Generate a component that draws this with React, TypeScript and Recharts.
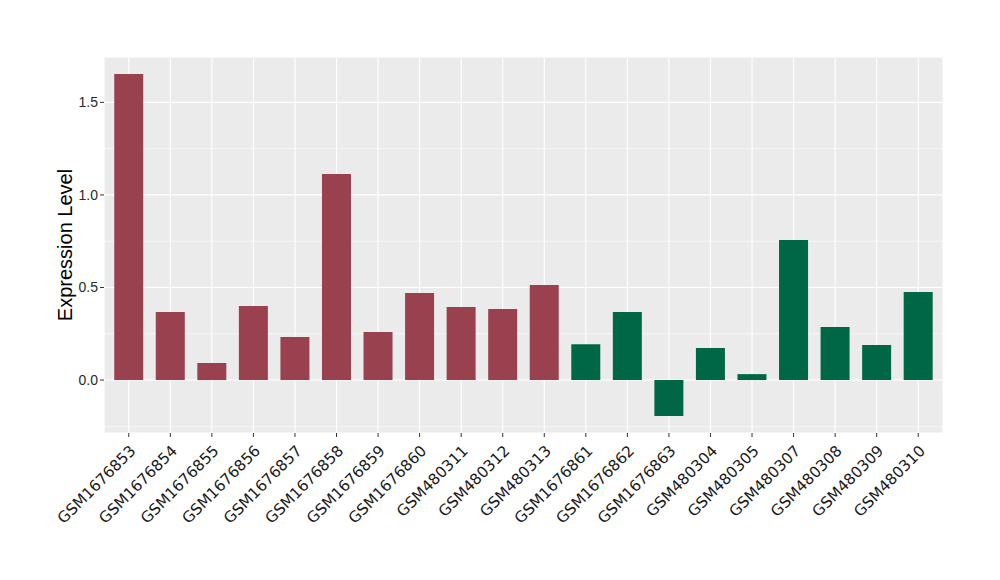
import React from "react";
import { BarChart, Bar, XAxis, YAxis, CartesianGrid, Cell } from "recharts";

const samples = [
  "GSM1676853", "GSM1676854", "GSM1676855", "GSM1676856", "GSM1676857",
  "GSM1676858", "GSM1676859", "GSM1676860", "GSM480311", "GSM480312",
  "GSM480313", "GSM1676861", "GSM1676862", "GSM1676863", "GSM480304",
  "GSM480305", "GSM480307", "GSM480308", "GSM480309", "GSM480310",
];
const values = [
  1.653, 0.367, 0.092, 0.400, 0.232, 1.113, 0.259, 0.470, 0.394, 0.384,
  0.513, 0.194, 0.367, -0.194, 0.173, 0.032, 0.756, 0.286, 0.189, 0.475,
];
const groups = [
  "A", "A", "A", "A", "A", "A", "A", "A", "A", "A",
  "A", "B", "B", "B", "B", "B", "B", "B", "B", "B",
];
const groupColors: Record<string, string> = { A: "#9A4150", B: "#006746" };
const yTicks = [0, 0.5, 1, 1.5];
const yMinor = [-0.25, 0.25, 0.75, 1.25, 1.75];

const data = samples.map((s, i) => ({ name: s, value: values[i], group: groups[i] }));

const FONT = "'Liberation Sans', Arial, Helvetica, sans-serif";
const XFONT = "'DejaVu Sans', sans-serif";

const XTick = (props: any) => {
  const { x, y, payload } = props;
  const ay = y + 5;
  return (
    <text
      x={x}
      y={ay}
      transform={`rotate(-45, ${x}, ${ay})`}
      textAnchor="end"
      dy="0.72em"
      fontSize={15.3}
      fill="#1a1a1a"
      fontFamily={XFONT}
    >
      {payload.value}
    </text>
  );
};

export default function App() {
  return (
    <div style={{ position: "absolute", left: 0, top: 0, width: 1000, height: 580, background: "#fff" }}>
      <BarChart
        width={1000}
        height={580}
        data={data}
        margin={{ top: 57, right: 57, bottom: 0, left: 40 }}
        barCategoryGap="15%"
      >
        <CartesianGrid
          fill="#EBEBEB"
          stroke="#FFFFFF"
          strokeWidth={1.1}
          vertical={true}
          horizontal={true}
        />
        <CartesianGrid
          stroke="#FFFFFF"
          strokeWidth={0.55}
          vertical={false}
          horizontalValues={yMinor}
        />
        <XAxis
          dataKey="name"
          interval={0}
          axisLine={false}
          tickLine={{ stroke: "#333333" }}
          tickSize={4}
          padding={{ left: 4, right: 4 }}
          tick={<XTick />}
          height={147}
        />
        <YAxis
          width={64}
          domain={[-0.286, 1.745]}
          allowDataOverflow
          ticks={yTicks}
          tickFormatter={(v: number) => v.toFixed(1)}
          axisLine={false}
          tickLine={{ stroke: "#333333" }}
          tickSize={4}
          tick={{ fontSize: 14, fill: "#2a2a2a", fontFamily: FONT }}
          label={{
            value: "Expression Level",
            angle: -90,
            position: "insideLeft",
            dx: 20,
            style: { fontSize: 20, fill: "#000", fontFamily: FONT, textAnchor: "middle" },
          }}
        />
        <Bar dataKey="value" isAnimationActive={false}>
          {data.map((d, i) => (
            <Cell key={i} fill={groupColors[d.group]} />
          ))}
        </Bar>
      </BarChart>
    </div>
  );
}
